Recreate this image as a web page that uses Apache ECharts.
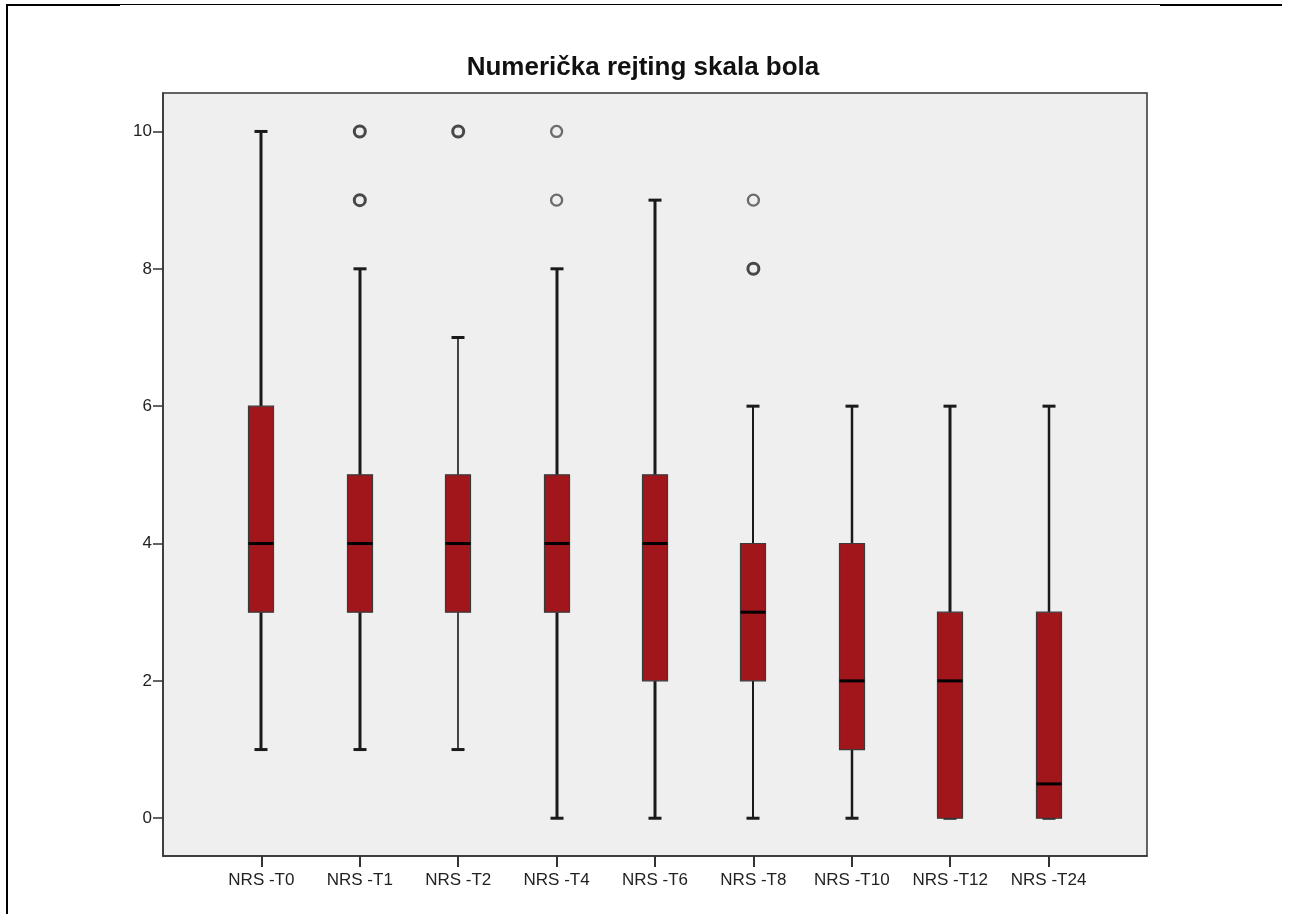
<!DOCTYPE html>
<html>
<head>
<meta charset="utf-8">
<script src="https://cdn.jsdelivr.net/npm/echarts@6/dist/echarts.min.js"></script>
<style>
html,body{margin:0;padding:0;background:#fff;}
#chart{width:1289px;height:914px;}
</style>
</head>
<body>
<div id="chart"></div>
<script>
// ---- data ----
var categories = ['NRS -T0','NRS -T1','NRS -T2','NRS -T4','NRS -T6','NRS -T8','NRS -T10','NRS -T12','NRS -T24'];
var whiskerLow = [1, 1, 1, 0, 0, 0, 0, 0, 0];
var q1Values   = [3, 3, 3, 3, 2, 2, 1, 0, 0];
var medians    = [4, 4, 4, 4, 4, 3, 2, 2, 0.5];
var q3Values   = [6, 5, 5, 5, 5, 4, 4, 3, 3];
var whiskerHigh= [10, 8, 7, 8, 9, 6, 6, 6, 6];
// outliers: [category index, value, number of cases]
var outlierCat   = [1, 1, 2, 3, 3, 5, 5];
var outlierValue = [10, 9, 10, 10, 9, 9, 8];
var outlierCount = [2, 2, 2, 1, 1, 1, 2];
var yTicks = [0, 2, 4, 6, 8, 10];
var titleText = 'Numerička rejting skala bola';

// ---- styles (not data) ----
var whiskerWidths = [3, 3, 1.6, 3, 3, 2, 2.5, 3, 2.5];
var FONT = '"Liberation Sans", Arial, sans-serif';

var axisCats = [''].concat(categories).concat(['']);
var boxData = categories.map(function (c, i) {
  return [i + 1, whiskerLow[i], q1Values[i], medians[i], q3Values[i], whiskerHigh[i], i];
});
var outlierData = outlierCat.map(function (c, i) {
  return {
    value: [c + 1, outlierValue[i]],
    itemStyle: {
      color: 'rgba(0,0,0,0)',
      borderColor: outlierCount[i] > 1 ? '#1e1e1e' : '#4a4a4a',
      borderWidth: outlierCount[i] > 1 ? 3 : 2.3
    }
  };
});

function renderBox(params, api) {
  var x = api.value(0);
  var pMin = api.coord([x, api.value(1)]);
  var pQ1 = api.coord([x, api.value(2)]);
  var pMed = api.coord([x, api.value(3)]);
  var pQ3 = api.coord([x, api.value(4)]);
  var pMax = api.coord([x, api.value(5)]);
  var lw = whiskerWidths[api.value(6)];
  var cx = Math.round(pMed[0]);
  var halfBox = 12.5;
  var halfCap = 6.5;
  var wStyle = { stroke: '#1a1a1a', lineWidth: lw };
  return {
    type: 'group',
    children: [
      { type: 'line', shape: { x1: cx, y1: pQ3[1], x2: cx, y2: pMax[1] }, style: wStyle },
      { type: 'line', shape: { x1: cx, y1: pQ1[1], x2: cx, y2: pMin[1] }, style: wStyle },
      { type: 'line', shape: { x1: cx - halfCap, y1: pMax[1], x2: cx + halfCap, y2: pMax[1] }, style: { stroke: '#1a1a1a', lineWidth: 3 } },
      { type: 'line', shape: { x1: cx - halfCap, y1: pMin[1], x2: cx + halfCap, y2: pMin[1] }, style: { stroke: '#1a1a1a', lineWidth: 3 } },
      { type: 'rect', shape: { x: cx - halfBox, y: pQ3[1], width: halfBox * 2, height: pQ1[1] - pQ3[1] },
        style: { fill: '#a1161a', stroke: '#3a3a3a', lineWidth: 1.2 } },
      { type: 'line', shape: { x1: cx - halfBox, y1: pMed[1], x2: cx + halfBox, y2: pMed[1] }, style: { stroke: '#000', lineWidth: 3 } }
    ]
  };
}

var chart = echarts.init(document.getElementById('chart'), null, { renderer: 'canvas' });
chart.setOption({
  backgroundColor: '#ffffff',
  animation: false,
  title: {
    text: titleText,
    left: 638, top: 50, textAlign: 'center',
    textStyle: { fontFamily: FONT, fontSize: 26, fontWeight: 'bold', color: '#111' }
  },
  grid: {
    left: 163, top: 93, right: 142, bottom: 58,
    show: true, backgroundColor: '#efefef', borderColor: '#333', borderWidth: 1.5,
    containLabel: false
  },
  xAxis: {
    type: 'category',
    data: axisCats,
    boundaryGap: false,
    axisLine: { show: true, onZero: false, lineStyle: { color: '#333', width: 1.5 } },
    axisTick: {
      show: true, length: 11, lineStyle: { color: '#333', width: 2 },
      interval: function (index, value) { return value !== ''; }
    },
    axisLabel: { interval: 0, fontFamily: FONT, fontSize: 17, color: '#222', margin: 16 },
    splitLine: { show: false }
  },
  yAxis: {
    type: 'value',
    min: -0.55, max: 10.56,
    axisLine: { show: true, onZero: false, lineStyle: { color: '#333', width: 1.5 } },
    axisTick: { show: true, length: 10, customValues: yTicks, lineStyle: { color: '#333', width: 1.5 } },
    axisLabel: { customValues: yTicks, fontFamily: FONT, fontSize: 17, color: '#222', margin: 11 },
    splitLine: { show: false }
  },
  graphic: [
    { type: 'line', shape: { x1: 7, y1: 5, x2: 7, y2: 914 }, style: { stroke: '#000', lineWidth: 2 } },
    { type: 'line', shape: { x1: 6, y1: 5, x2: 120, y2: 5 }, style: { stroke: '#000', lineWidth: 2 } },
    { type: 'line', shape: { x1: 120, y1: 4.5, x2: 1160, y2: 4.5 }, style: { stroke: '#000', lineWidth: 1 } },
    { type: 'line', shape: { x1: 1160, y1: 5, x2: 1282, y2: 5 }, style: { stroke: '#000', lineWidth: 2 } }
  ],
  series: [
    {
      type: 'custom',
      renderItem: renderBox,
      data: boxData,
      encode: { x: 0, y: [1, 2, 3, 4, 5] },
      z: 2
    },
    {
      type: 'scatter',
      symbol: 'circle',
      symbolSize: 11,
      data: outlierData,
      z: 3
    }
  ]
});
</script>
</body>
</html>
